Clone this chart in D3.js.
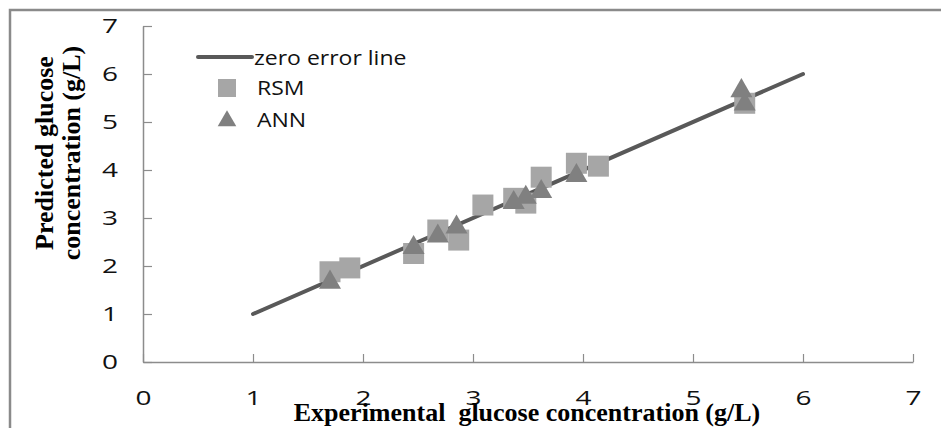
<!DOCTYPE html>
<html>
<head>
<meta charset="utf-8">
<script src="https://cdn.jsdelivr.net/npm/d3@7"></script>
<style>
  body { margin: 0; background: #fff; }
</style>
</head>
<body>
<div id="chart"></div>
<script>
// data
var xTicks = [0, 1, 2, 3, 4, 5, 6, 7];
var yTicks = [0, 1, 2, 3, 4, 5, 6, 7];

var zeroLineX = [1, 6];
var zeroLineY = [1, 6];

var rsmExp  = [1.70, 1.88, 2.46, 2.68, 2.87, 3.09, 3.37, 3.48, 3.62, 3.94, 4.14, 5.47];
var rsmPred = [1.88, 1.96, 2.26, 2.75, 2.54, 3.27, 3.41, 3.31, 3.85, 4.14, 4.08, 5.39];

var annExp  = [1.70, 2.46, 2.68, 2.85, 3.37, 3.48, 3.62, 3.94, 5.44, 5.47];
var annPred = [1.66, 2.38, 2.62, 2.81, 3.32, 3.43, 3.55, 3.88, 5.65, 5.37];

var legendNames = ['zero error line', 'RSM', 'ANN'];

var width = 941;
var height = 428;
var lineColor = '#595959';
var rsmColor = '#a6a6a6';
var annColor = '#808080';
var axisColor = '#8c8c8c';
var stretch = 1.4; // tick labels look widened in the picture

var svg = d3.select('#chart').append('svg')
      .attr('width', width)
      .attr('height', height)
      .style('display', 'block')
      .style('background', '#fff');

// outer frame (only top and left edges visible)
svg.append('path')
      .attr('d', 'M10,' + height + 'V10H' + width)
      .attr('fill', 'none')
      .attr('stroke', '#8a8a8a')
      .attr('stroke-width', 2.5);

var xScale = d3.scaleLinear().domain([0, 7]).range([143, 913]);
var yScale = d3.scaleLinear().domain([0, 7]).range([362, 26]);

var yAxis = d3.axisLeft(yScale)
      .tickValues(yTicks)
      .tickSizeInner(-9)
      .tickSizeOuter(0)
      .tickPadding(25)
      .tickFormat(d3.format('d'));

var xAxis = d3.axisBottom(xScale)
      .tickValues(xTicks)
      .tickSizeInner(-8)
      .tickSizeOuter(0)
      .tickPadding(29)
      .tickFormat(d3.format('d'));

var gx = svg.append('g')
      .attr('transform', 'translate(0,' + yScale(0) + ')')
      .call(xAxis);
var gy = svg.append('g')
      .attr('transform', 'translate(' + xScale(0) + ',0)')
      .call(yAxis);

[gx, gy].forEach(function (g) {
      g.select('.domain').attr('stroke', axisColor).attr('stroke-width', 1.5);
      g.selectAll('.tick line').attr('stroke', axisColor).attr('stroke-width', 1.2);
      g.selectAll('.tick text')
            .attr('font-family', '"Open Sans", sans-serif')
            .attr('font-size', 20)
            .attr('fill', '#111');
});
gy.selectAll('.tick text')
      .attr('x', -25 / stretch)
      .attr('transform', 'scale(' + stretch + ',1)');
gx.selectAll('.tick text')
      .attr('transform', 'scale(' + stretch + ',1)');

// zero error line
var line = d3.line()
      .x(function (d) { return xScale(d[0]); })
      .y(function (d) { return yScale(d[1]); });

svg.append('path')
      .datum(d3.zip(zeroLineX, zeroLineY))
      .attr('d', line)
      .attr('fill', 'none')
      .attr('stroke', lineColor)
      .attr('stroke-width', 4)
      .attr('stroke-linecap', 'round');

// RSM squares
svg.append('g').selectAll('path')
      .data(d3.zip(rsmExp, rsmPred))
      .enter()
      .append('path')
            .attr('d', d3.symbol().type(d3.symbolSquare).size(441))
            .attr('transform', function (d) { return 'translate(' + xScale(d[0]) + ',' + yScale(d[1]) + ')'; })
            .attr('fill', rsmColor);

// ANN triangles
svg.append('g').selectAll('path')
      .data(d3.zip(annExp, annPred))
      .enter()
      .append('path')
            .attr('d', d3.symbol().type(d3.symbolTriangle).size(210))
            .attr('transform', function (d) { return 'translate(' + xScale(d[0]) + ',' + yScale(d[1]) + ')'; })
            .attr('fill', annColor);

// legend
var legend = svg.append('g');
legend.append('line')
      .attr('x1', 198).attr('x2', 252)
      .attr('y1', 57).attr('y2', 57)
      .attr('stroke', lineColor)
      .attr('stroke-width', 4)
      .attr('stroke-linecap', 'round');
legend.append('path')
      .attr('d', d3.symbol().type(d3.symbolSquare).size(324))
      .attr('transform', 'translate(227,88)')
      .attr('fill', rsmColor);
legend.append('path')
      .attr('d', d3.symbol().type(d3.symbolTriangle).size(150))
      .attr('transform', 'translate(227,121)')
      .attr('fill', annColor);

var legendX = [254, 257, 257];
var legendY = [65, 95, 127];
legend.selectAll('text')
      .data(legendNames)
      .enter()
      .append('text')
            .attr('transform', function (d, i) { return 'translate(' + legendX[i] + ',' + legendY[i] + ') scale(1.15,1)'; })
            .attr('font-family', '"Open Sans", sans-serif')
            .attr('font-size', 20)
            .attr('fill', '#111')
            .text(function (d) { return d; });

// axis titles
svg.append('text')
      .attr('x', 527)
      .attr('y', 421)
      .attr('text-anchor', 'middle')
      .attr('font-family', '"Liberation Serif", "Times New Roman", serif')
      .attr('font-weight', 'bold')
      .attr('font-size', 26)
      .style('white-space', 'pre')
      .text('Experimental  glucose concentration (g/L)');

var yTitle = ['Predicted glucose', 'concentration (g/L)'];
var yTitleX = [53, 80];
svg.selectAll('.ytitle')
      .data(yTitle)
      .enter()
      .append('text')
            .attr('class', 'ytitle')
            .attr('transform', function (d, i) { return 'translate(' + yTitleX[i] + ',153) rotate(-90)'; })
            .attr('text-anchor', 'middle')
            .attr('font-family', '"Liberation Serif", "Times New Roman", serif')
            .attr('font-weight', 'bold')
            .attr('font-size', 26)
            .text(function (d) { return d; });
</script>
</body>
</html>
